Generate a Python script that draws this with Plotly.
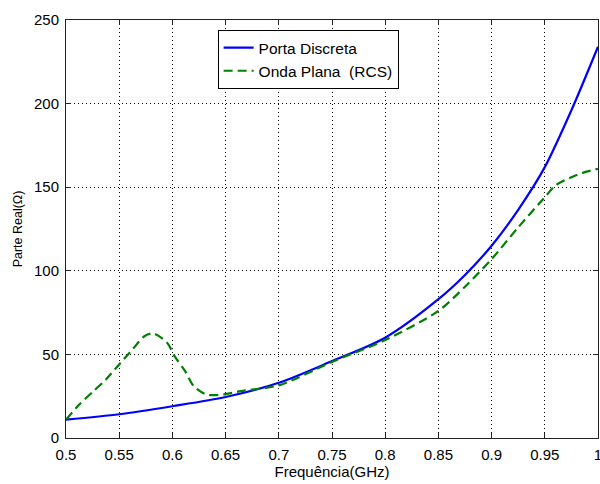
import plotly.graph_objects as go

# Porta Discreta (solid blue)
freq_porta = [0.5, 0.55, 0.6, 0.65, 0.7, 0.75, 0.8, 0.85, 0.875, 0.9, 0.925, 0.95, 0.975, 1.0]
real_porta = [11, 14.2, 19, 24.5, 33, 46, 60, 83, 97.5, 115, 136.5, 162, 196, 234]

# Onda Plana (RCS) (dashed green)
freq_onda = [0.5, 0.5125, 0.525, 0.5375, 0.55, 0.5625, 0.574, 0.582, 0.595, 0.602, 0.612,
             0.62, 0.632, 0.648, 0.664, 0.7, 0.75, 0.8, 0.85, 0.875, 0.9, 0.925,
             0.95, 0.96, 0.975, 0.985, 1.0]
real_onda = [11, 20, 27.5, 35, 44, 53, 61, 62.5, 57, 49, 40,
             31, 26, 26, 28, 31.5, 45.5, 58.6, 76, 90.5, 107, 126,
             144, 151, 156, 158.5, 161]

x_ticks = [0.5, 0.55, 0.6, 0.65, 0.7, 0.75, 0.8, 0.85, 0.9, 0.95, 1.0]
x_tick_text = ["0.5", "0.55", "0.6", "0.65", "0.7", "0.75", "0.8", "0.85", "0.9", "0.95", "1"]
y_ticks = [0, 50, 100, 150, 200, 250]
y_tick_text = ["0", "50", "100", "150", "200", "250"]

FONT = "Liberation Sans, Arial, sans-serif"

fig = go.Figure()
fig.add_trace(go.Scatter(
    x=freq_porta, y=real_porta, mode="lines", name="Porta Discreta",
    line=dict(color="#0000ff", width=2.2, shape="spline", smoothing=0.8),
))
fig.add_trace(go.Scatter(
    x=freq_onda, y=real_onda, mode="lines", name="Onda Plana\u00a0 (RCS)",
    line=dict(color="#008000", width=2.2, dash="9px,5px", shape="spline", smoothing=0.8),
))

axis_common = dict(
    showline=True, linecolor="#222222", linewidth=1, mirror="ticks",
    ticks="inside", ticklen=5, tickcolor="#222222",
    showgrid=True, gridcolor="#000000", gridwidth=1, griddash="1px,3px",
    zeroline=False, automargin=False, ticklabelstandoff=3,
    ticklabeloverflow="allow",
    tickfont=dict(family=FONT, size=15, color="#000000"),
)

fig.update_layout(
    width=600, height=484,
    margin=dict(l=66, r=2, t=20, b=45.5),
    paper_bgcolor="white", plot_bgcolor="white",
    font=dict(family=FONT, size=15, color="#000000"),
    showlegend=True,
    legend=dict(
        x=0.285, y=0.976, xanchor="left", yanchor="top",
        bordercolor="#000000", borderwidth=1, bgcolor="white",
        font=dict(family=FONT, size=15.5, color="#000000"),
    ),
    xaxis=dict(
        range=[0.5, 1.0], tickvals=x_ticks, ticktext=x_tick_text,
        title=dict(text="Frequência(GHz)", font=dict(family=FONT, size=15), standoff=4),
        **axis_common,
    ),
    yaxis=dict(
        range=[0, 250], tickvals=y_ticks, ticktext=y_tick_text,
        title=dict(text="Parte Real(Ω)", font=dict(family=FONT, size=12.5), standoff=8),
        **axis_common,
    ),
)

# Remove the default page margin so the 600x484 figure fills the window exactly.
fig.write_html(
    "out.html",
    config={"displayModeBar": False},
    post_script="document.body.style.margin='0';document.body.style.overflow='hidden';",
)
